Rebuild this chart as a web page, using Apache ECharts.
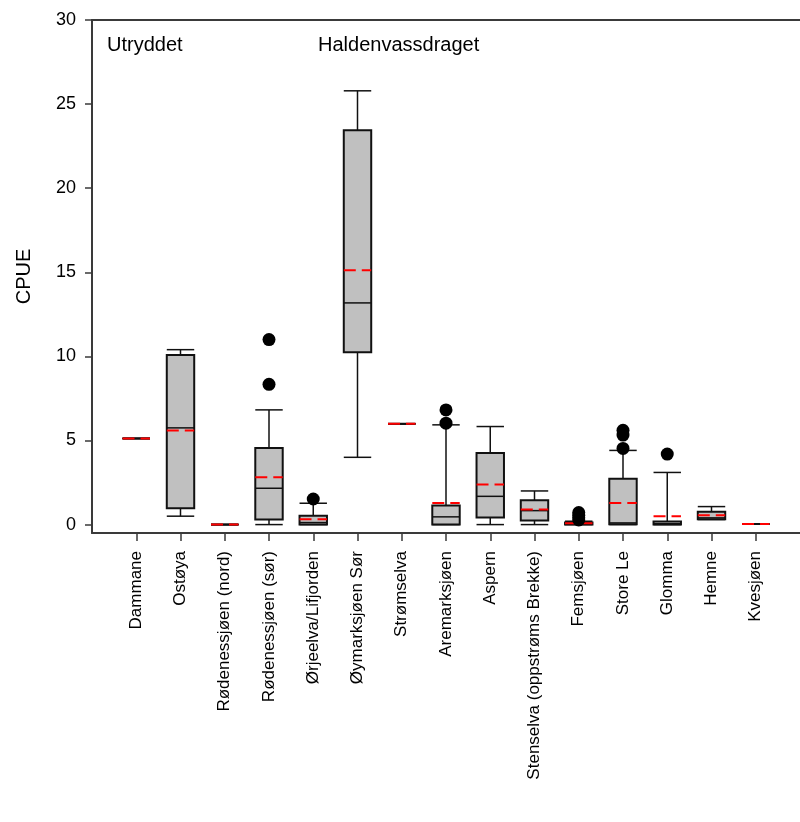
<!DOCTYPE html>
<html>
<head>
<meta charset="utf-8">
<script src="https://cdn.jsdelivr.net/npm/echarts@6/dist/echarts.min.js"></script>
<style>
html,body{margin:0;padding:0;background:#fff;}
#chart{width:800px;height:822px;}
</style>
</head>
<body>
<div id="chart"></div>
<script>
const categories = ['Dammane','Ostøya','Rødenessjøen (nord)','Rødenessjøen (sør)','Ørjeelva/Lifjorden','Øymarksjøen Sør','Strømselva','Aremarksjøen','Aspern','Stenselva (oppstrøms Brekke)','Femsjøen','Store Le','Glomma','Hemne','Kvesjøen'];
const whiskerLow  = [5.12, 0.50, 0, 0,    0,    4.00, 5.99, 0,    0,    0,    0,    0,    0,    0.30, 0.03];
const q1          = [5.12, 0.97, 0, 0.30, 0,    10.24,5.99, 0,    0.42, 0.24, 0,    0.02, 0,    0.32, 0.03];
const median      = [5.12, 5.75, 0, 2.16, 0.12, 13.18,5.99, 0.46, 1.68, 0.83, 0.03, 0.10, 0.05, 0.40, 0.03];
const q3          = [5.12, 10.08,0, 4.55, 0.52, 23.44,5.99, 1.13, 4.25, 1.45, 0.12, 2.73, 0.18, 0.77, 0.03];
const whiskerHigh = [5.12, 10.40,0, 6.82, 1.27, 25.79,5.99, 5.93, 5.83, 2.00, 0.20, 4.41, 3.10, 1.07, 0.03];
const means       = [5.12, 5.60, 0, 2.81, 0.32, 15.12,5.99, 1.29, 2.39, 0.89, 0.08, 1.29, 0.50, 0.56, 0.03];
// outliers: [category index, value]
const outliers = [[3,11.0],[3,8.34],[4,1.52],[7,6.82],[7,6.03],[10,0.72],[10,0.55],[10,0.40],[10,0.28],[11,5.61],[11,5.32],[11,4.53],[12,4.19]];
const yTicks = [0,5,10,15,20,25,30];
const yAxisTitle = 'CPUE';
const notes = ['Utryddet','Haldenvassdraget'];

const paddedCats = [''].concat(categories, ['']);
const boxData = categories.map((c,i)=>[i+1, whiskerLow[i], q1[i], median[i], q3[i], whiskerHigh[i], means[i]]);
const outlierData = outliers.map(o=>[o[0]+1, o[1]]);

const FONT = 'Liberation Sans, Arial, sans-serif';
const axisColor = '#3a3a3a';

const chart = echarts.init(document.getElementById('chart'), null, {renderer:'canvas'});

function renderBox(params, api){
  const x = api.value(0);
  const lo = api.coord([x, api.value(1)]);
  const b1 = api.coord([x, api.value(2)]);
  const md = api.coord([x, api.value(3)]);
  const b3 = api.coord([x, api.value(4)]);
  const hi = api.coord([x, api.value(5)]);
  const mn = api.coord([x, api.value(6)]);
  const bw = api.size([1,0])[0]*0.62;
  const cx = lo[0];
  const l = cx - bw/2, r = cx + bw/2;
  const wStyle = {stroke:'#111', lineWidth:1.5, fill:null};
  const children = [
    {type:'line', shape:{x1:cx,y1:b3[1],x2:cx,y2:hi[1]}, style:wStyle},
    {type:'line', shape:{x1:cx,y1:b1[1],x2:cx,y2:lo[1]}, style:wStyle},
    {type:'line', shape:{x1:l,y1:hi[1],x2:r,y2:hi[1]}, style:wStyle},
    {type:'line', shape:{x1:l,y1:lo[1],x2:r,y2:lo[1]}, style:wStyle},
    {type:'rect', shape:{x:l,y:b3[1],width:bw,height:b1[1]-b3[1]}, style:{fill:'#c0c0c0', stroke:'#111', lineWidth:2}},
    {type:'line', shape:{x1:l,y1:md[1],x2:r,y2:md[1]}, style:{stroke:'#111', lineWidth:1.5}},
    {type:'line', shape:{x1:l,y1:mn[1],x2:r,y2:mn[1]}, style:{stroke:'#ff0000', lineWidth:2, lineDash:[12,6]}}
  ];
  return {type:'group', children};
}

const option = {
  animation:false,
  backgroundColor:'#fff',
  grid:{left:92, right:-6, top:20, bottom:289, containLabel:false},
  xAxis:[{
    type:'category', data:paddedCats, boundaryGap:false, position:'bottom',
    axisLine:{show:true, onZero:false, lineStyle:{color:axisColor, width:2}},
    axisTick:{show:true, length:8, inside:false, interval:(i,v)=>v!=='', lineStyle:{color:axisColor, width:1.5}},
    axisLabel:{rotate:90, margin:18, interval:0, color:'#000', fontSize:17, fontFamily:FONT},
    splitLine:{show:false}
  },{
    type:'category', data:paddedCats, boundaryGap:false, position:'top',
    axisLine:{show:true, onZero:false, lineStyle:{color:axisColor, width:2}},
    axisTick:{show:false}, axisLabel:{show:false}, splitLine:{show:false}
  }],
  yAxis:{
    type:'value', min:-0.5, max:30,
    name:yAxisTitle, nameLocation:'middle', nameGap:58,
    nameTextStyle:{color:'#000', fontSize:20, fontFamily:FONT},
    axisLine:{show:true, onZero:false, lineStyle:{color:axisColor, width:2}},
    axisTick:{show:true, length:7, customValues:yTicks, lineStyle:{color:axisColor, width:1.5}},
    axisLabel:{customValues:yTicks, margin:16, color:'#000', fontSize:18, fontFamily:FONT},
    splitLine:{show:false}
  },
  series:[{
    type:'custom', renderItem:renderBox, data:boxData,
    encode:{x:0, y:[1,2,3,4,5,6]}, z:2, clip:false
  },{
    type:'scatter', data:outlierData, symbol:'circle', symbolSize:13,
    itemStyle:{color:'#000', opacity:1}, z:3
  }],
  graphic:[
    {type:'text', left:107, top:35, style:{text:notes[0], fill:'#000', fontSize:20, fontFamily:FONT}},
    {type:'text', left:318, top:35, style:{text:notes[1], fill:'#000', fontSize:20, fontFamily:FONT}}
  ]
};
chart.setOption(option);
</script>
</body>
</html>
